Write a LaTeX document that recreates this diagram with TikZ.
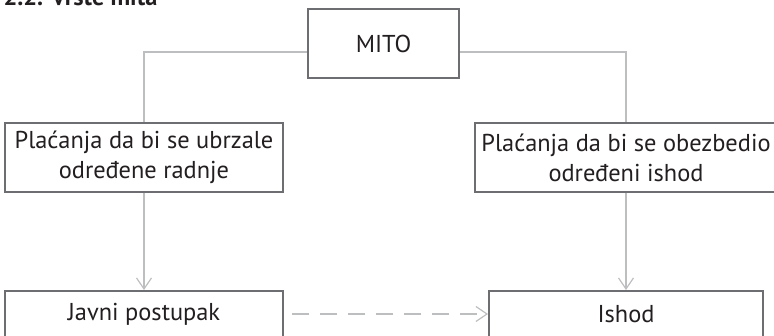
\documentclass[tikz,border=0pt]{standalone}
\usepackage{fontspec}
\setmainfont{PT Sans}
\usetikzlibrary{arrows.meta}
\definecolor{txt}{HTML}{231F20}
\definecolor{boxline}{HTML}{6D6E71}
\definecolor{conn}{HTML}{BCBEC0}
\tikzset{
  box/.style={draw=boxline, line width=2pt, fill=white, text=txt, align=center,
    inner sep=0pt, font=\fontsize{24.4}{30}\selectfont},
  link/.style={draw=conn, line width=1.4pt},
  tip/.style={-{Straight Barb[length=11pt,width=15pt,line width=1.2pt]}},
}
\begin{document}
\begin{tikzpicture}[x=1pt,y=-1pt]
\useasboundingbox (0,0) rectangle (774,336);
\node[anchor=base west, text=txt, font=\fontsize{24.4}{30}\selectfont\bfseries] (title) at (0,6) {2.2. Vrste mita};
\node[box, minimum width=151pt, minimum height=69pt] (mito) at (383.5,43.5) {MITO};
\node[box, minimum width=278pt, minimum height=69pt] (left) at (144,157.5) {Plaćanja da bi se ubrzale\\određene radnje};
\node[box, minimum width=302pt, minimum height=69pt] (right) at (626,157.5) {Plaćanja da bi se obezbedio\\određeni ishod};
\node[box, minimum width=278pt, minimum height=46pt] (jp) at (144,314) {Javni postupak};
\node[box, minimum width=274pt, minimum height=46pt] (ish) at (626,314) {Ishod};
\coordinate (mw) at ([yshift=-8.5pt]mito.west);
\coordinate (me) at ([yshift=-8.5pt]mito.east);
\draw[link] (mw) -| (left.north);
\draw[link] (me) -| (right.north);
\draw[link, tip] (left.south) -- (jp.north);
\draw[link, tip] (right.south) -- (ish.north);
\draw[link, tip, dash pattern=on 17pt off 11pt, shorten <=8pt] (jp.east) -- (ish.west);
\end{tikzpicture}
\end{document}
